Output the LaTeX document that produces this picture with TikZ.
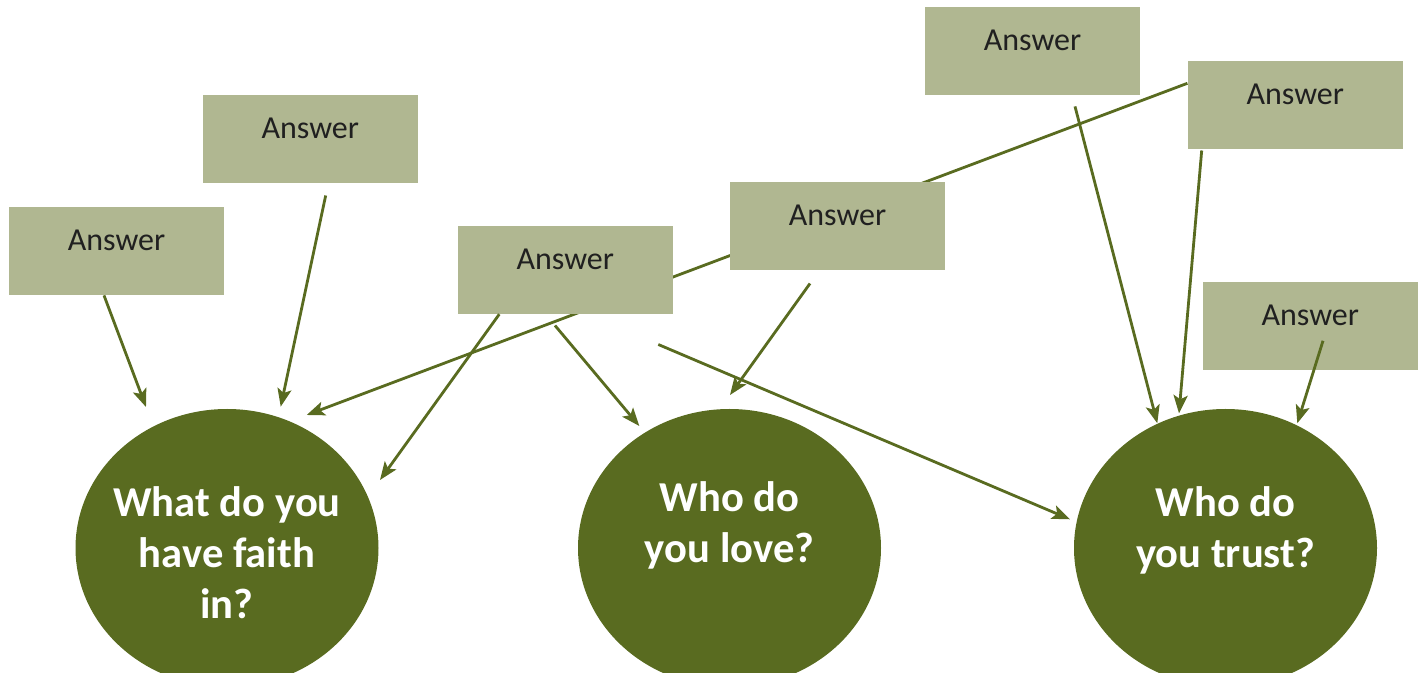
\documentclass[tikz,border=0pt]{standalone}
\usepackage{fontspec}
\setmainfont{Carlito}
\usepackage{tikz}
\usetikzlibrary{positioning,calc,shapes.geometric,arrows.meta,backgrounds}
\definecolor{boxgreen}{RGB}{176,183,145}
\definecolor{darkolive}{RGB}{89,107,32}
\definecolor{answertext}{RGB}{32,32,32}
\tikzset{answer/.style={fill=boxgreen,minimum width=107.5pt,minimum height=44pt,inner sep=0pt,text height=8pt,text depth=8pt,text=answertext,font=\fontsize{16}{19}\selectfont},
         question/.style={ellipse,fill=darkolive,minimum width=151.5pt,minimum height=139pt,inner sep=0pt},
         qtext/.style={align=center,text=white,inner sep=0pt,font=\bfseries\fontsize{21.3}{25.5}\selectfont}
}
\tikzstyle{arrow} = [line width=1.4pt,darkolive,-{Stealth[length=9pt,width=7pt,inset=2pt]}]

\begin{document}
\begin{tikzpicture}[x=0.5pt,y=-0.5pt]
\useasboundingbox (0,0) rectangle (1426,673);

\node[question] (faith) at (227,548) {};
\node[question] (love) at (729.5,548) {};
\node[question] (trust) at (1225.5,548) {};
\node[qtext] (faithtext) at ($(faith.center)+(0,5)$) {What do you\\have faith\\in?};
\node[qtext] (lovetext) at ($(love.center)+(0,-22.5)$) {Who do\\you love?};
\node[qtext] (trusttext) at ($(trust.center)+(0,-17.5)$) {Who do\\you trust?};

\node[answer] (ans1) at (116.5,251) {Answer};
\node[answer] (ans2) at (310.3,138.8) {Answer};
\node[answer] (ans3) at (565.3,269.8) {Answer};
\node[answer] (ans4) at (837.5,225.7) {Answer};
\node[answer] (ans5) at (1032.5,50.7) {Answer};
\node[answer] (ans6) at (1295.3,104.8) {Answer};
\node[answer] (ans7) at (1310.3,325.7) {Answer};

\begin{scope}[on background layer]
\draw[arrow] ($(ans6.west)+(0,-21.5)$)--($(faith.center)+(79.7,-133)$);
\end{scope}
\draw[arrow] ($(ans1.south)+(-12.5,0)$)--($(faith.center)+(-81,-141)$);
\draw[arrow] ($(ans2.south)+(15.4,12.3)$)--($(faith.center)+(53.7,-141.3)$);
\draw[arrow] ($(ans3.south)+(-66,0)$)--($(faith.center)+(153,-68)$);
\draw[arrow] ($(ans3.south)+(-10.3,11.3)$)--($(love.center)+(-90.2,-122)$);
\draw[arrow] ($(ans3.south)+(93,30.3)$)--($(trust.center)+(-155.5,-28.7)$);
\draw[arrow] ($(ans4.south)+(-27.5,13.4)$)--($(love.center)+(0.5,-153)$);
\draw[arrow] ($(ans5.south)+(42.5,11.3)$)--($(trust.center)+(-68.2,-124.7)$);
\draw[arrow] ($(ans6.south)+(-93.6,1.3)$)--($(trust.center)+(-46.5,-134.7)$);
\draw[arrow] ($(ans7.south)+(12.7,-29.3)$)--($(trust.center)+(71.8,-124.7)$);

\end{tikzpicture}
\end{document}
